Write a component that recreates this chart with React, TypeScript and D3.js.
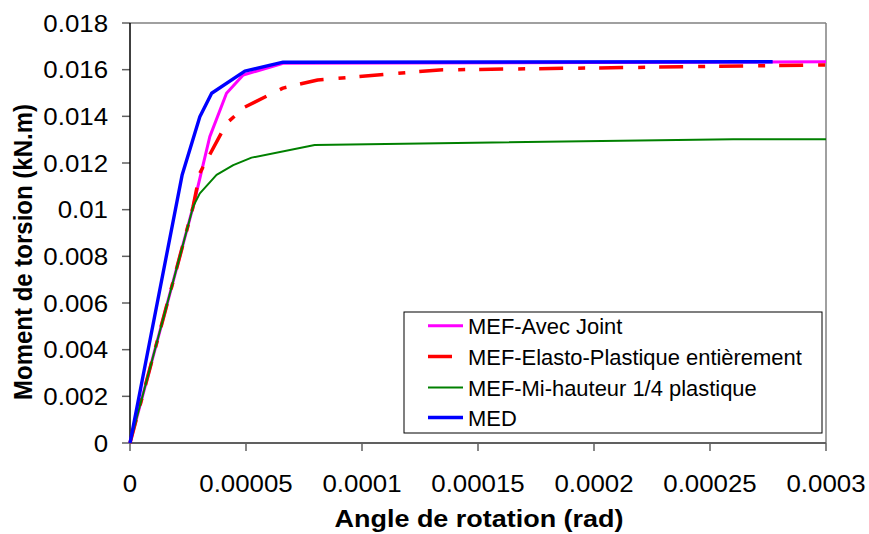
import React from 'react';
import * as d3 from 'd3';

const xTicks = [0, 0.00005, 0.0001, 0.00015, 0.0002, 0.00025, 0.0003];
const xTickLabels = ['0', '0.00005', '0.0001', '0.00015', '0.0002', '0.00025', '0.0003'];
const yTicks = [0, 0.002, 0.004, 0.006, 0.008, 0.01, 0.012, 0.014, 0.016, 0.018];
const yTickLabels = ['0', '0.002', '0.004', '0.006', '0.008', '0.01', '0.012', '0.014', '0.016', '0.018'];

const seriesNames = [
  'MEF-Avec Joint',
  'MEF-Elasto-Plastique entièrement',
  'MEF-Mi-hauteur 1/4 plastique',
  'MED',
];

const jointX = [0, 0.0000272, 0.0000344, 0.0000416, 0.0000488, 0.000066, 0.0003];
const jointY = [0, 0.01013, 0.01313, 0.01499, 0.01577, 0.01627, 0.01634];

const elastoX = [0, 0.0000272, 0.0000301, 0.0000416, 0.0000495, 0.0000659, 0.0000809, 0.0001334, 0.0003];
const elastoY = [0, 0.01013, 0.01157, 0.0137, 0.0144, 0.01521, 0.01556, 0.01599, 0.0162];

const miX = [0, 0.0000272, 0.0000301, 0.0000373, 0.0000445, 0.0000524, 0.0000796, 0.00026, 0.0003];
const miY = [0, 0.01013, 0.0107, 0.01149, 0.01191, 0.01223, 0.01277, 0.01302, 0.01302];

const medX = [0, 0.0000225, 0.0000301, 0.0000352, 0.0000495, 0.000066, 0.000277];
const medY = [0, 0.0115, 0.01398, 0.01499, 0.01594, 0.01632, 0.01634];

const colors = ['#ff00ff', '#ff0000', '#008000', '#0000ff'];
const widths = [3, 3.5, 2, 3.4];
const dashes = [null, '24,15,7,14', null, null];

const L = 130, R = 826, T = 23, B = 443;
const SX = 1.1;
const FONT = 'Liberation Sans, Arial, sans-serif';

export default function App() {
  const x = d3.scaleLinear().domain([0, 0.0003]).range([L, R]);
  const y = d3.scaleLinear().domain([0, 0.018]).range([B, T]);
  const line = d3.line<[number, number]>().x(d => x(d[0])).y(d => y(d[1]));
  const series = [
    [jointX, jointY],
    [elastoX, elastoY],
    [miX, miY],
    [medX, medY],
  ].map(([xs, ys]) => xs.map((v, i) => [v, ys[i]] as [number, number]));

  const legendX = 404, legendY = 312, legendW = 418, legendH = 121;
  const rowY = [325.7, 356.5, 387.5, 417.5];

  return (
    <svg width={869} height={534} style={{ position: 'absolute', left: 0, top: 0, background: '#fff' }} fontFamily={FONT}>
      <rect x={0} y={0} width={869} height={534} fill="#fff" />
      {/* frame */}
      <line x1={L} x2={R} y1={T} y2={T} stroke="#808080" strokeWidth={1.5} />
      <line x1={R} x2={R} y1={T} y2={B} stroke="#808080" strokeWidth={1.5} />
      {/* y ticks */}
      {yTicks.map((t, i) => (
        <g key={'y' + i}>
          <line x1={L - 8} x2={L} y1={y(t)} y2={y(t)} stroke="#606060" strokeWidth={1.5} />
          <text transform={`translate(${L - 22},${y(t) + 8.5}) scale(${SX},1)`} textAnchor="end" fontSize={23.5} fill="#000">{yTickLabels[i]}</text>
        </g>
      ))}
      {/* x ticks */}
      {xTicks.map((t, i) => (
        <g key={'x' + i}>
          <line x1={x(t)} x2={x(t)} y1={B} y2={B + 8} stroke="#606060" strokeWidth={1.5} />
          <text transform={`translate(${x(t)},${492}) scale(${SX},1)`} textAnchor="middle" fontSize={23.5} fill="#000">{xTickLabels[i]}</text>
        </g>
      ))}
      <line x1={L} x2={R} y1={B} y2={B} stroke="#606060" strokeWidth={2} />
      <line x1={L} x2={L} y1={T} y2={B} stroke="#000" strokeWidth={1.5} />
      {/* series */}
      {series.map((s, i) => (
        <path key={'s' + i} d={line(s) || ''} fill="none" stroke={colors[i]} strokeWidth={widths[i]}
          strokeDasharray={dashes[i] || undefined} strokeLinejoin="round" />
      ))}
      {/* legend */}
      <rect x={legendX} y={legendY} width={legendW} height={legendH} fill="#fff" stroke="#000" strokeWidth={1} />
      {seriesNames.map((n, i) => (
        <g key={'l' + i}>
          <line x1={428} x2={463} y1={rowY[i]} y2={rowY[i]} stroke={colors[i]} strokeWidth={widths[i]}
            strokeDasharray={dashes[i] || undefined} />
          <text transform={`translate(468,${rowY[i] + 8}) scale(${1.02},1)`} fontSize={21.5} fill="#000">{n}</text>
        </g>
      ))}
      {/* axis titles */}
      <text transform={`translate(${(L + R) / 2 + 1},527) scale(${SX},1)`} textAnchor="middle" fontSize={24.5} fontWeight="bold" fill="#000">Angle de rotation (rad)</text>
      <text transform={`translate(32,252) scale(${SX},1) rotate(-90)`} textAnchor="middle" fontSize={24} fontWeight="bold" fill="#000">Moment de torsion (kN.m)</text>
    </svg>
  );
}
